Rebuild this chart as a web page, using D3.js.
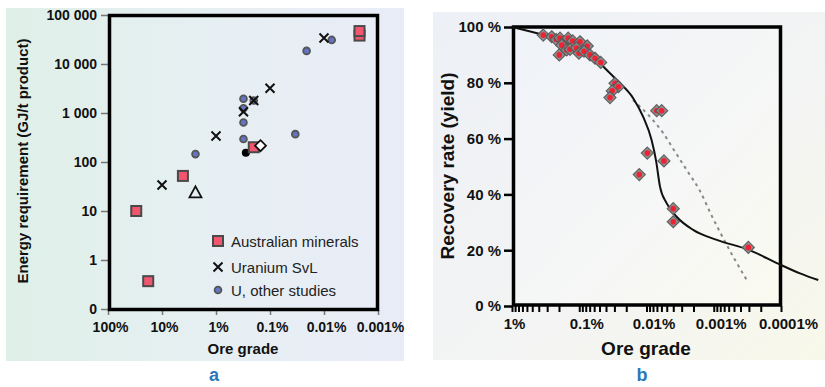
<!DOCTYPE html>
<html><head><meta charset="utf-8">
<script src="https://cdn.jsdelivr.net/npm/d3@7"></script>
<style>body{margin:0;background:#fff} svg{display:block;font-family:"Liberation Sans",Arial,sans-serif}</style>
</head><body><svg id="c" width="825" height="387"></svg>
<script>
// ---------- Panel a data ----------
const gradeTicksA = [100, 10, 1, 0.1, 0.01, 0.001];
const gradeTickLabelsA = ["100%", "10%", "1%", "0.1%", "0.01%", "0.001%"];
const energyTicks = [0.1, 1, 10, 100, 1000, 10000, 100000];
const energyTickLabels = ["0", "1", "10", "100", "1 000", "10 000", "100 000"];
const australianGrade = [30, 18, 4.1, 0.2, 0.0022, 0.0022];
const australianEnergy = [10, 0.37, 52, 200, 38000, 47000];
const svlGrade = [10, 1, 0.31, 0.2, 0.1, 0.01];
const svlEnergy = [34, 340, 1060, 1800, 3200, 34000];
const otherGrade = [2.4, 0.31, 0.31, 0.31, 0.31, 0.2, 0.034, 0.021, 0.0072];
const otherEnergy = [145, 1950, 1250, 640, 295, 1800, 370, 18500, 31000];
const triangleGrade = [2.4], triangleEnergy = [24];
const dotGrade = [0.28], dotEnergy = [155];
const openDiamondGrade = [0.15], openDiamondEnergy = [215];
const legendLabels = ["Australian minerals", "Uranium SvL", "U, other studies"];

// ---------- Panel b data ----------
const gradeTicksB = [1, 0.1, 0.01, 0.001, 0.0001];
const gradeTickLabelsB = ["1%", "0.1%", "0.01%", "0.001%", "0.0001%"];
const recTicks = [0, 20, 40, 60, 80, 100];
const recTickLabels = ["0 %", "20 %", "40 %", "60 %", "80 %", "100 %"];
const recGrade = [0.343, 0.257, 0.22, 0.193, 0.17, 0.146, 0.125, 0.0975, 0.0759, 0.182, 0.154, 0.137, 0.11, 0.198, 0.101, 0.085, 0.0692, 0.0583, 0.048,
  0.0294, 0.0262, 0.0323, 0.0349, 0.00705, 0.00594, 0.00973, 0.0055, 0.0128, 0.004, 0.004, 0.000306];
const recRate = [97.1, 96.5, 95.5, 96.0, 94.5, 96.0, 95.0, 94.7, 93.2, 93.5, 91.8, 92.0, 92.5, 90.0, 90.6, 91.3, 90.0, 88.8, 87.3,
  79.8, 78.6, 77.1, 74.7, 70.0, 70.0, 54.8, 52.0, 47.1, 34.9, 30.2, 21.0];
const fitGrade = [1, 0.334, 0.0775, 0.049, 0.0277, 0.0157, 0.0112, 0.0084, 0.0072, 0.0063, 0.005, 0.00356, 0.002, 0.0009, 0.0003, 0.0001, 0.0000522, 0.0000279];
const fitRate = [100, 97.1, 92.4, 87.0, 81.0, 74.4, 67.8, 59.5, 52.0, 42.8, 36.8, 32.0, 27.2, 23.7, 20.1, 14.7, 11.7, 9.3];
const dotFitGrade = [0.0159, 0.00887, 0.00562, 0.004, 0.00252, 0.0016, 0.00107, 0.000807, 0.000512, 0.000306];
const dotFitRate = [73.8, 67.8, 61.9, 56.3, 48.7, 41.2, 32.3, 26.5, 17.6, 8.4];

const svg = d3.select("#c");
const defs = svg.append("defs");
function grad(id, stops, x2, y2) {
  const g = defs.append("linearGradient").attr("id", id).attr("x1", 0).attr("y1", 0).attr("x2", x2).attr("y2", y2);
  stops.forEach(s => g.append("stop").attr("offset", s[0]).attr("stop-color", s[1]));
}
grad("bgA", [[0, "#dff0e8"], [0.5, "#e6eff2"], [1, "#e9ecf7"]], 1, 0);
grad("bgB", [[0, "#edf0f6"], [0.6, "#f3f4f3"], [1, "#f8f8ea"]], 1, 1);
grad("inB", [[0, "#eff2f8"], [0.6, "#f6f7f6"], [1, "#fafaf0"]], 1, 1);

// ---------- Panel a ----------
const gA = svg.append("g");
gA.append("rect").attr("x", 6).attr("y", 8).attr("width", 398).attr("height", 353).attr("fill", "url(#bgA)");
const xA = d3.scaleLog().domain([100, 0.001]).range([108, 378]);
const yA = d3.scaleLog().domain([0.1, 100000]).range([309, 15]);

const axYA = gA.append("g").attr("transform", "translate(108,0)")
  .call(d3.axisLeft(yA).tickValues(energyTicks).tickFormat((d, i) => energyTickLabels[i]).tickSize(7).tickPadding(4));
axYA.select(".domain").remove();
axYA.selectAll("line").attr("stroke", "#777").attr("stroke-width", 1.5);
axYA.selectAll("text").attr("font-size", 14).attr("font-weight", "bold").attr("fill", "#111").attr("font-family", "Liberation Sans, Arial, sans-serif");

const axXA = gA.append("g").attr("transform", "translate(0,310)")
  .call(d3.axisBottom(xA).tickValues(gradeTicksA).tickFormat((d, i) => gradeTickLabelsA[i]).tickSize(5).tickPadding(7));
axXA.select(".domain").remove();
axXA.selectAll("line").attr("stroke", "#777").attr("stroke-width", 1.5);
axXA.selectAll("text").attr("font-size", 14).attr("font-weight", "bold").attr("fill", "#111").attr("dx", 2).attr("font-family", "Liberation Sans, Arial, sans-serif");

gA.append("rect").attr("x", 109.5).attr("y", 15.5).attr("width", 268).attr("height", 294)
  .attr("fill", "none").attr("stroke", "#000").attr("stroke-width", 3.5);

gA.append("text").attr("x", 243).attr("y", 354).attr("text-anchor", "middle").attr("font-size", 15).attr("font-weight", "bold").attr("fill", "#111").text("Ore grade");
gA.append("text").attr("transform", "translate(28,161) rotate(-90)").attr("text-anchor", "middle").attr("font-size", 15).attr("font-weight", "bold").attr("fill", "#111").text("Energy requirement (GJ/t product)");

const sq = (sel, x, y) => sel.append("rect").attr("x", x - 5).attr("y", y - 5).attr("width", 10).attr("height", 10)
  .attr("fill", "#f2566e").attr("stroke", "#4a4a4a").attr("stroke-width", 2);
const circ = (sel, x, y) => sel.append("circle").attr("cx", x).attr("cy", y).attr("r", 3.4)
  .attr("fill", "#6474c4").attr("stroke", "#555").attr("stroke-width", 1.8);
const cross = (sel, x, y) => sel.append("path").attr("d", `M${x - 4.5},${y - 4.5}L${x + 4.5},${y + 4.5}M${x - 4.5},${y + 4.5}L${x + 4.5},${y - 4.5}`)
  .attr("stroke", "#111").attr("stroke-width", 2).attr("fill", "none");

const mA = gA.append("g");
otherGrade.forEach((g, i) => circ(mA, xA(g), yA(otherEnergy[i])));
dotGrade.forEach((g, i) => mA.append("circle").attr("cx", xA(g)).attr("cy", yA(dotEnergy[i])).attr("r", 4).attr("fill", "#000"));
australianGrade.forEach((g, i) => sq(mA, xA(g), yA(australianEnergy[i])));
openDiamondGrade.forEach((g, i) => {
  const x = xA(g), y = yA(openDiamondEnergy[i]);
  mA.append("path").attr("d", `M${x},${y - 5.5}L${x + 5.5},${y}L${x},${y + 5.5}L${x - 5.5},${y}Z`).attr("fill", "#fff").attr("stroke", "#111").attr("stroke-width", 1.8);
});
triangleGrade.forEach((g, i) => {
  const x = xA(g), y = yA(triangleEnergy[i]);
  mA.append("path").attr("d", `M${x},${y - 6}L${x + 6},${y + 5}L${x - 6},${y + 5}Z`).attr("fill", "none").attr("stroke", "#111").attr("stroke-width", 1.8);
});
svlGrade.forEach((g, i) => cross(mA, xA(g), yA(svlEnergy[i])));

const legY = [241, 267, 290];
sq(gA, 218, legY[0]);
cross(gA, 218, legY[1]);
circ(gA, 218, legY[2]);
legendLabels.forEach((t, i) => gA.append("text").attr("x", 231).attr("y", legY[i] + 5.5).attr("font-size", 15).attr("fill", "#222").text(t));

gA.append("text").attr("x", 214).attr("y", 381).attr("text-anchor", "middle").attr("font-size", 18).attr("font-weight", "bold").attr("fill", "#2b78b8").text("a");

// ---------- Panel b ----------
const gB = svg.append("g");
gB.append("rect").attr("x", 433).attr("y", 12).attr("width", 392).attr("height", 348).attr("fill", "url(#bgB)");
gB.append("rect").attr("x", 512).attr("y", 27).attr("width", 269).attr("height", 279).attr("fill", "url(#inB)");
const xB = d3.scaleLog().domain([1, 0.0001]).range([512, 781]);
const yB = d3.scaleLinear().domain([0, 100]).range([306, 27]);

const axYB = gB.append("g").attr("transform", "translate(512,0)")
  .call(d3.axisLeft(yB).tickValues(recTicks).tickFormat((d, i) => recTickLabels[i]).tickSize(8).tickPadding(3));
axYB.select(".domain").remove();
axYB.selectAll("line").attr("stroke", "#000").attr("stroke-width", 2.5);
axYB.selectAll("text").attr("font-size", 15).attr("font-weight", "bold").attr("fill", "#111").attr("font-family", "Liberation Sans, Arial, sans-serif");

const axXB = gB.append("g").attr("transform", "translate(0,306)")
  .call(d3.axisBottom(xB).tickValues(xB.ticks()).tickFormat(d => {
    const i = gradeTicksB.findIndex(v => Math.abs(Math.log10(v) - Math.log10(d)) < 1e-6);
    return i >= 0 ? gradeTickLabelsB[i] : "";
  }).tickSize(6).tickPadding(6));
axXB.select(".domain").remove();
axXB.selectAll("line").attr("stroke", "#000").attr("stroke-width", 2);
axXB.selectAll("text").attr("font-size", 15).attr("font-weight", "bold").attr("fill", "#111").attr("dx", (d) => Math.abs(d - 1) < 1e-9 ? 2 : 7).attr("font-family", "Liberation Sans, Arial, sans-serif");

gB.append("rect").attr("x", 513.5).attr("y", 27).attr("width", 267).attr("height", 278)
  .attr("fill", "none").attr("stroke", "#000").attr("stroke-width", 3.5);

// dotted fit
gB.append("path").datum(dotFitGrade.map((g, i) => [xB(g), yB(dotFitRate[i])]))
  .attr("d", d3.line().curve(d3.curveMonotoneX)).attr("fill", "none").attr("stroke", "#888").attr("stroke-width", 2).attr("stroke-dasharray", "3,4");
// solid fit
gB.append("path").datum(fitGrade.map((g, i) => [xB(g), yB(fitRate[i])]))
  .attr("d", d3.line().curve(d3.curveMonotoneX)).attr("fill", "none").attr("stroke", "#111").attr("stroke-width", 2);

const mB = gB.append("g");
recGrade.forEach((g, i) => {
  const x = xB(g), y = yB(recRate[i]);
  mB.append("path").attr("d", `M${x},${y - 6}L${x + 6},${y}L${x},${y + 6}L${x - 6},${y}Z`)
    .attr("fill", "#8a8a8a").attr("stroke", "#5a5a5a").attr("stroke-width", 1.2).attr("opacity", 0.95);
  mB.append("circle").attr("cx", x).attr("cy", y).attr("r", 2.8).attr("fill", "#ee2233");
});

gB.append("text").attr("x", 646).attr("y", 355).attr("text-anchor", "middle").attr("font-size", 19).attr("font-weight", "bold").attr("fill", "#111").text("Ore grade");
gB.append("text").attr("transform", "translate(454,166) rotate(-90)").attr("text-anchor", "middle").attr("font-size", 19).attr("font-weight", "bold").attr("fill", "#111").text("Recovery rate (yield)");
gB.append("text").attr("x", 642).attr("y", 381).attr("text-anchor", "middle").attr("font-size", 18).attr("font-weight", "bold").attr("fill", "#2b78b8").text("b");
</script></body></html>
